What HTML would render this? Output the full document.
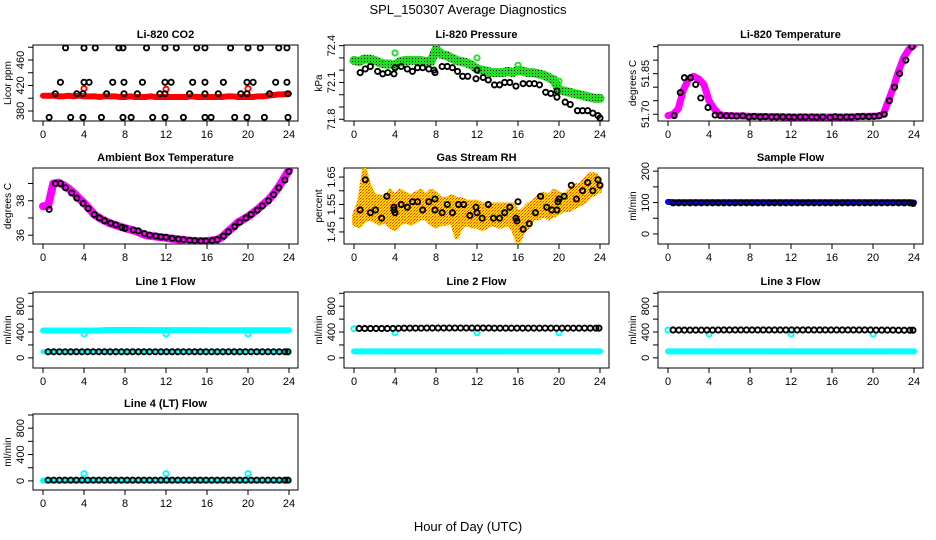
<!DOCTYPE html>
<html><head><meta charset="utf-8"><style>
html,body{margin:0;padding:0;background:#fff;}
svg{display:block;font-family:"Liberation Sans",sans-serif;}
</style></head><body>
<svg id="chart" width="936" height="540" viewBox="0 0 936 540" xmlns="http://www.w3.org/2000/svg">
<defs>
<pattern id="gpat" patternUnits="userSpaceOnUse" width="3" height="3"><rect width="3" height="3" fill="#22dd22"/><rect x="1" y="1" width="1" height="1" fill="#000"/></pattern>
<pattern id="rhpat" patternUnits="userSpaceOnUse" width="3" height="3"><rect width="3" height="3" fill="#ffdd00"/><rect width="1" height="1" fill="#ff2000"/><rect x="2" y="1" width="1" height="1" fill="#ff5000"/><rect x="1" y="2" width="1" height="1" fill="#ff9000"/></pattern>
</defs>
<text x="468" y="14" font-size="13" text-anchor="middle">SPL_150307  Average Diagnostics</text>
<text x="468" y="531" font-size="13" text-anchor="middle">Hour of Day (UTC)</text>
</svg>
<script>
// ---- data ----
const xTicks = [0,4,8,12,16,20,24];
const co2Red = [404,404,404,403,403,404,403,404,403,403,403,402,403,403,403,402,402,403,402,402,402,403,402,402,402,402,402,402,402,403,402,402,402,402,402,402,403,403,402,402,402,402,403,403,404,405,406,406,407];
const co2RedOutH = [4,12,20];
const co2RedOutV = [415,414,415];
const co2BlkH = [2.2,4,5.1,7.4,7.8,10.1,11.9,13,15,15.8,18.3,20,21.2,23,23.8, 1.7,4,4.5,6.8,7.9,9.7,11.9,12.5,14.6,15.8,17.6,19.9,20.5,22.7,23.8, 1.2,3.3,3.9,6.2,7.9,9.2,11.4,11.9,14.3,15.8,17.1,19.3,19.9,22.1,23.9, 0.6,2.7,3.9,5.7,7.8,8.6,10.7,11.9,13.7,15.8,16.4,18.7,19.9,21.6,23.9];
const co2BlkV = [479,479,479,479,479,479,479,479,479,479,479,479,479,479,479, 425,425,425,425,425,425,425,425,425,425,425,425,425,425,425, 407,407,407,407,407,407,407,407,407,407,407,407,407,407,407, 370,370,370,370,370,370,370,370,370,370,370,370,370,370,370];

const presGreen = [72.28,72.27,72.29,72.29,72.28,72.26,72.25,72.25,72.24,72.27,72.28,72.28,72.28,72.28,72.27,72.27,72.37,72.33,72.32,72.30,72.28,72.27,72.26,72.24,72.21,72.20,72.19,72.18,72.18,72.18,72.19,72.18,72.20,72.19,72.18,72.18,72.17,72.16,72.14,72.12,72.04,72.03,72.02,72.01,72.00,71.99,71.98,71.97,71.97];
const presOutH = [4,12,16,20];
const presOutV = [72.34,72.30,72.24,72.11];
const presBlkH = [0.6,1.1,1.6,2.3,2.8,3.3,3.9,4,4.6,5.2,5.7,6.2,6.7,7.3,7.8,7.9,8.6,9.1,9.6,10.1,10.6,11.1,11.9,12,12.6,13.1,13.7,14.2,14.7,15.2,15.8,16.5,17.1,17.6,18.1,18.7,19.2,19.8,19.8,20.6,21.1,21.8,22.3,22.8,23.3,23.8,24];
const presBlkV = [72.18,72.21,72.23,72.19,72.17,72.18,72.17,72.22,72.23,72.21,72.19,72.22,72.22,72.21,72.20,72.18,72.23,72.23,72.22,72.19,72.15,72.15,72.13,72.20,72.14,72.12,72.08,72.08,72.10,72.10,72.07,72.09,72.09,72.09,72.08,72.02,72.01,72.03,71.98,71.94,71.92,71.87,71.87,71.87,71.85,71.83,71.81];

const tempMag = [51.695,51.70,51.72,51.79,51.83,51.84,51.83,51.81,51.75,51.72,51.70,51.695,51.695,51.694,51.694,51.693,51.692,51.692,51.692,51.691,51.691,51.691,51.691,51.690,51.690,51.690,51.690,51.690,51.690,51.690,51.690,51.690,51.690,51.690,51.690,51.690,51.690,51.691,51.692,51.692,51.693,51.693,51.70,51.75,51.80,51.86,51.91,51.94,51.955];
const tempBlkH = [0.6,1.2,1.6,2.2,2.7,3.2,3.9,4.6,5.1,5.7,6.2,6.7,7.3,7.9,8.4,9,9.5,10.1,10.6,11.2,11.8,12.3,12.9,13.4,14,14.5,15.1,15.8,16.3,16.8,17.4,17.9,18.5,19,19.6,20.1,20.6,21.1,21.6,22.1,22.6,23.2,23.8];
const tempBlkV = [51.695,51.78,51.835,51.835,51.81,51.76,51.725,51.697,51.695,51.694,51.694,51.693,51.694,51.69,51.692,51.690,51.691,51.690,51.690,51.690,51.690,51.689,51.690,51.690,51.690,51.689,51.690,51.688,51.691,51.689,51.690,51.690,51.691,51.692,51.691,51.692,51.694,51.70,51.75,51.80,51.85,51.90,51.95];

const ambMag = [37.68,37.7,39.0,39.05,38.9,38.7,38.45,38.15,37.86,37.55,37.2,37.0,36.84,36.7,36.6,36.5,36.41,36.33,36.25,36.12,36.0,35.96,35.92,35.88,35.85,35.8,35.77,35.74,35.7,35.68,35.66,35.66,35.66,35.7,35.75,35.9,36.2,36.45,36.74,36.9,37.08,37.3,37.53,37.8,38.06,38.4,38.8,39.3,39.78];
const ambBlkH = [0.6,1.2,1.7,2.2,2.8,3.3,3.9,4.4,5,5.5,6,6.6,7.1,7.7,8,8.8,9.3,9.9,10.4,11,11.5,12,12.6,13.2,13.7,14.3,14.8,15.4,15.9,16.5,17,17.6,18.1,18.7,19.2,19.8,20.3,20.9,21.4,22,22.5,23,23.6,24];
const ambBlkV = [37.5,39.0,39.0,38.75,38.45,38.15,37.85,37.55,37.2,37.0,36.84,36.7,36.6,36.45,36.4,36.3,36.25,36.1,36.0,35.95,35.9,35.88,35.82,35.78,35.74,35.7,35.68,35.66,35.66,35.68,35.74,35.95,36.2,36.5,36.75,37.0,37.2,37.45,37.7,38.0,38.35,38.75,39.2,39.7];

const rhHi = [1.51,1.56,1.68,1.62,1.58,1.58,1.57,1.60,1.58,1.60,1.59,1.58,1.59,1.60,1.58,1.60,1.59,1.57,1.57,1.58,1.57,1.57,1.56,1.56,1.56,1.55,1.55,1.55,1.55,1.55,1.55,1.55,1.52,1.53,1.55,1.56,1.58,1.59,1.58,1.60,1.59,1.58,1.60,1.62,1.62,1.64,1.66,1.66,1.64];
const rhLo = [1.48,1.47,1.49,1.50,1.49,1.48,1.49,1.47,1.46,1.48,1.49,1.48,1.49,1.50,1.50,1.48,1.47,1.48,1.48,1.49,1.43,1.47,1.48,1.47,1.47,1.46,1.47,1.48,1.47,1.47,1.48,1.46,1.41,1.45,1.47,1.50,1.50,1.51,1.50,1.51,1.52,1.53,1.53,1.54,1.55,1.56,1.58,1.59,1.60];
const rhBlkH = [0.6,1.1,1.6,2.1,2.7,3.2,3.9,3.9,4,4.6,5.2,5.7,6.2,6.7,7.3,7.9,7.9,8.6,9.1,9.6,10.2,10.7,11.3,11.9,12,12.5,13.1,13.6,14.2,14.7,15.2,15.8,15.9,16,16.5,17.1,17.7,18.2,18.8,19.3,19.8,19.9,20,20.5,21.2,21.7,22.3,22.8,23.3,23.8,24];
const rhBlkV = [1.53,1.64,1.52,1.53,1.50,1.58,1.54,1.53,1.52,1.55,1.54,1.56,1.56,1.53,1.56,1.57,1.53,1.52,1.55,1.52,1.55,1.55,1.51,1.54,1.52,1.50,1.55,1.50,1.50,1.52,1.54,1.50,1.49,1.56,1.46,1.48,1.52,1.58,1.54,1.53,1.53,1.56,1.57,1.58,1.62,1.57,1.60,1.63,1.60,1.64,1.62];

const sfBlue = [102,101,101,101,101,101,101,101,101,101,101,101,101,101,101,101,101,101,101,101,101,101,101,101,101,101,101,101,101,101,101,101,101,101,101,101,101,101,101,101,101,101,101,101,101,101,101,101,100];
const sfBlk = [99,99,99,99,99,99,99,99,99,99,99,99,99,99,99,99,99,99,99,99,99,99,99,99,99,99,99,99,99,99,99,99,99,99,99,99,99,99,99,99,99,99,99,97];

const l1CyanHi = [424,424,424,424,424,424,424,424,424,424,424,424,430,432,432,432,432,432,432,432,430,430,430,430,430,430,430,430,430,430,430,430,428,428,428,428,428,428,428,428,428,428,428,428,428,428,428,428,428];
const l1CyanLo = [94,94,94,94,94,94,94,94,94,94,94,94,94,94,94,94,94,94,94,94,94,94,94,94,94,94,94,94,94,94,94,94,94,94,94,94,94,94,94,94,94,94,94,94,94,94,94,94,94];
const l1Blk = [94,94,94,94,94,94,94,94,94,94,94,94,94,94,94,94,94,94,94,94,94,94,94,94,94,94,94,94,94,94,94,94,94,94,94,94,94,94,94,94,94,94,94,94];
const l2CyanLo = [100,100,100,100,100,100,100,100,100,100,100,100,100,100,100,100,100,100,100,100,100,100,100,100,100,100,100,100,100,100,100,100,100,100,100,100,100,100,100,100,100,100,100,100,100,100,100,100,100];
const l2Blk = [455,455,455,455,455,455,455,458,460,460,460,460,462,462,462,462,462,462,462,462,462,462,462,462,460,460,460,460,460,460,460,460,460,460,460,460,460,460,460,460,460,460,460,460];
const l3CyanLo = [100,100,100,100,100,100,100,100,100,100,100,100,100,100,100,100,100,100,100,100,100,100,100,100,100,100,100,100,100,100,100,100,100,100,100,100,100,100,100,100,100,100,100,100,100,100,100,100,100];
const l3Blk = [432,430,430,430,430,430,430,430,432,432,432,432,432,432,432,432,432,432,432,432,432,432,432,432,432,432,432,432,432,432,432,432,432,432,432,432,430,430,430,430,428,428,428,428];
const l4Cyan = [5,5,5,5,5,5,5,5,5,5,5,5,5,5,5,5,5,5,5,5,5,5,5,5,5,5,5,5,5,5,5,5,5,5,5,5,5,5,5,5,5,5,5,5,5,5,5,5,5];
const l4Blk = [12,12,12,12,12,12,12,12,12,12,12,12,12,12,12,12,12,12,12,12,12,12,12,12,12,12,12,12,12,12,12,12,12,12,12,12,12,12,12,12,12,12,12,12];
const flowOutH = [4,12,20];
const l1OutV = [370,370,370];
const l2OutV = [390,390,390];
const l3OutV = [370,370,370];
const l4OutV = [110,110,110];
const l2StartV = [450];
const l3StartV = [430];

// hour grids (categories)
const H = []; for (let i=0;i<49;i++) H.push(i*0.5);
const BH = []; for (let i=0;i<43;i++) BH.push(+(0.5+i*0.55).toFixed(2)); BH.push(23.9);

const NS = "http://www.w3.org/2000/svg";
const svg = document.getElementById('chart');
function mk(tag, attrs, parent){ const e=document.createElementNS(NS,tag); for(const k in attrs) e.setAttribute(k,attrs[k]); (parent||svg).appendChild(e); return e; }

const colX = [33,344,658], rowY = [45,168,292,414], PW = 265, PH = 76;

function makePanel(name, col, row, title, ylab, ymin, ymax, yticks, ylabels){
  const x0=colX[col], y0=rowY[row];
  const g = mk('g',{});
  
  
  const sx = h => x0+10+h*(246/24);
  const sy = v => y0+PH-(v-ymin)/(ymax-ymin)*PH;
  const t = mk('text',{x:x0+PW/2,y:y0-7,'font-size':11,'font-weight':'bold','text-anchor':'middle'},g);
  t.textContent = title;
  
  
  const box = mk('rect',{x:x0,y:y0,width:PW,height:PH,fill:'none',stroke:'#000','stroke-width':1},g);
  
  
  xTicks.forEach(h=>{
    const X=sx(h);
    mk('line',{x1:X,x2:X,y1:y0+PH,y2:y0+PH+5,stroke:'#000'},g);
    const l=mk('text',{x:X,y:y0+PH+17,'font-size':11,'text-anchor':'middle'},g);
    l.textContent=h;
    
    
  });
  yticks.forEach(v=>{
    const Y=sy(v);
    mk('line',{x1:x0-5,x2:x0,y1:Y,y2:Y,stroke:'#000'},g);
  });
  ylabels.forEach(v=>{
    const Y=sy(+v);
    const l=mk('text',{x:0,y:0,'font-size':11,'text-anchor':'middle',transform:`translate(${x0-9},${Y}) rotate(-90)`},g);
    l.textContent=v;
    
    
  });
  const yl=mk('text',{x:0,y:0,'font-size':10,'text-anchor':'middle',transform:`translate(${x0-22},${y0+PH/2}) rotate(-90)`},g);
  yl.textContent=ylab;
  
  
  const clip = mk('clipPath',{id:'c'+name},g);
  mk('rect',{x:x0,y:y0,width:PW,height:PH},clip);
  const plot = mk('g',{'clip-path':`url(#c${name})`},g);
  return {sx,sy,plot,name};
}
function band(p, hs, vs, color, w, label){
  const pts = hs.map((h,i)=>p.sx(h)+','+p.sy(vs[i])).join(' ');
  const pl = mk('polyline',{points:pts,fill:'none',stroke:color,'stroke-width':w,'stroke-linejoin':'round','stroke-linecap':'round'},p.plot);
  
  
}
function pts(p, hs, vs, color, label, r){
  hs.forEach((h,i)=>{
    const c = mk('circle',{cx:p.sx(h),cy:p.sy(vs[i]),r:r||2.6,fill:'none',stroke:color,'stroke-width':1.9},p.plot);
    
    
  });
}

// CO2
let p = makePanel('co2',0,0,'Li-820 CO2','Licor ppm',364.3,483.5,[380,400,420,440,460,480],['380','420','460']);
band(p,H,co2Red,'#ff0000',6,'co2-band');
pts(p,co2RedOutH,co2RedOutV,'#ff0000','co2-outlier');
pts(p,co2BlkH,co2BlkV,'#000','co2-point');

// Pressure
p = makePanel('pressure',1,0,'Li-820 Pressure','kPa',71.786,72.405,[71.8,71.9,72.0,72.1,72.2,72.3,72.4],['71.8','72.1','72.4']);
band(p,H,presGreen,'url(#gpat)',9,'pressure-band');
pts(p,presOutH,presOutV,'#22dd22','pressure-outlier');
pts(p,presBlkH,presBlkV,'#000','pressure-point');

// Temperature
p = makePanel('temperature',2,0,'Li-820 Temperature','degrees C',51.675,51.956,[51.70,51.75,51.80,51.85,51.90,51.95],['51.70','51.85']);
band(p,H,tempMag,'#ff00ff',7,'temperature-band');
pts(p,tempBlkH,tempBlkV,'#000','temperature-point');

// Ambient
p = makePanel('ambient',0,1,'Ambient Box Temperature','degrees C',35.49,39.9,[36,37,38,39],['36','38']);
band(p,H,ambMag,'#ff00ff',8,'ambient-band');
pts(p,ambBlkH,ambBlkV,'#000','ambient-point');

// RH
p = makePanel('rh',1,1,'Gas Stream RH','percent',1.406,1.683,[1.45,1.50,1.55,1.60,1.65],['1.45','1.55','1.65']);
{
  const top = H.map((h,i)=>p.sx(h)+','+p.sy(rhHi[i]));
  const bot = H.map((h,i)=>p.sx(h)+','+p.sy(rhLo[i])).reverse();
  const poly = mk('polygon',{points:top.concat(bot).join(' '),fill:'url(#rhpat)',stroke:'url(#rhpat)','stroke-width':4,'stroke-linejoin':'round'},p.plot);
  
  
}
pts(p,rhBlkH,rhBlkV,'#000','rh-point');

// Sample flow
p = makePanel('sample-flow',2,1,'Sample Flow','ml/min',-32,210,[0,50,100,150,200],['0','100','200']);
band(p,H,sfBlue,'#0000ff',6,'sample-flow-band');
pts(p,BH,sfBlk,'#000','sample-flow-point');

// Line 1
p = makePanel('line1',0,2,'Line 1 Flow','ml/min',-157,1020,[0,200,400,600,800,1000],['0','400','800']);
band(p,H,l1CyanHi,'#00ffff',6,'line1-high-band');
band(p,H,l1CyanLo,'#00ffff',5,'line1-low-band');
pts(p,flowOutH,l1OutV,'#00ffff','line1-outlier');
pts(p,BH,l1Blk,'#000','line1-point');

// Line 2
p = makePanel('line2',1,2,'Line 2 Flow','ml/min',-157,1020,[0,200,400,600,800,1000],['0','400','800']);
band(p,H,l2CyanLo,'#00ffff',6,'line2-low-band');
pts(p,[0],l2StartV,'#00ffff','line2-start');
pts(p,flowOutH,l2OutV,'#00ffff','line2-outlier');
pts(p,BH,l2Blk,'#000','line2-point');

// Line 3
p = makePanel('line3',2,2,'Line 3 Flow','ml/min',-157,1020,[0,200,400,600,800,1000],['0','400','800']);
band(p,H,l3CyanLo,'#00ffff',6,'line3-low-band');
pts(p,[0],l3StartV,'#00ffff','line3-start');
pts(p,flowOutH,l3OutV,'#00ffff','line3-outlier');
pts(p,BH,l3Blk,'#000','line3-point');

// Line 4
p = makePanel('line4',0,3,'Line 4 (LT) Flow','ml/min',-138,1015,[0,200,400,600,800,1000],['0','400','800']);
band(p,H,l4Cyan,'#00ffff',6,'line4-band');
pts(p,flowOutH,l4OutV,'#00ffff','line4-outlier');
pts(p,BH,l4Blk,'#000','line4-point');
</script>
</body></html>
